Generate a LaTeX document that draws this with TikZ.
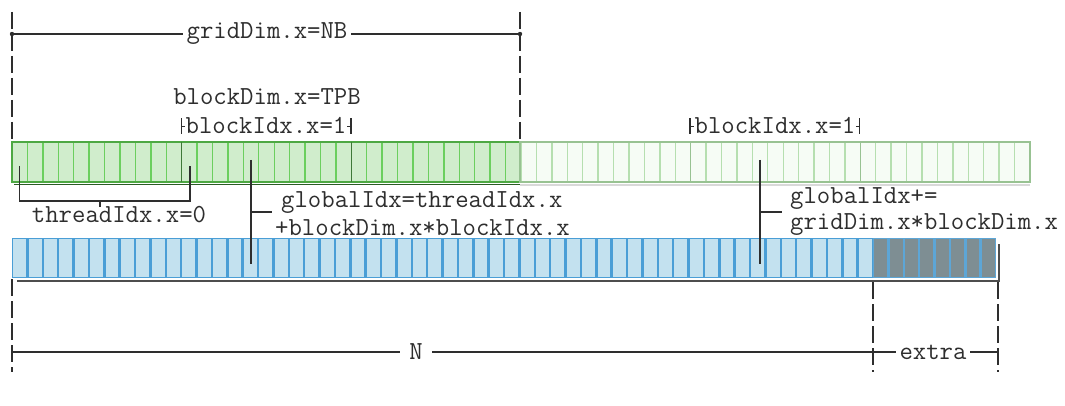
\documentclass[tikz,border=0pt]{standalone}
\definecolor{ink}{HTML}{2E2E2E}
\definecolor{gfill}{HTML}{D0EDCC}
\definecolor{gline}{HTML}{6BCF5E}
\definecolor{gedge}{HTML}{4DA843}
\definecolor{gdiv}{HTML}{3E7838}
\definecolor{lgfill}{HTML}{F6FCF5}
\definecolor{lgline}{HTML}{B6DFB0}
\definecolor{lgdiv}{HTML}{98C292}
\definecolor{bfill}{HTML}{C3E1EF}
\definecolor{bline}{HTML}{4A9ED6}
\definecolor{xfill}{HTML}{7E8E93}
\definecolor{xline}{HTML}{5DA6D6}
\tikzset{
  lbl/.style={font=\ttfamily\fontsize{26}{25}\selectfont, text=ink, inner sep=1pt},
  padlbl/.style={lbl, fill=white, inner xsep=4pt},
  dim/.style={draw=ink, line width=1.1pt},
  guide/.style={draw=ink, line width=1.1pt, dash pattern=on 17pt off 5pt},
  darkcell/.style={draw=gline, fill=gfill, line width=1.4pt},
  lightcell/.style={draw=lgline, fill=lgfill, line width=1.4pt},
  bluecell/.style={draw=bline, fill=bfill, line width=1.3pt},
  extracell/.style={draw=xline, fill=xfill, line width=1.3pt},
}
\begin{document}
\begin{tikzpicture}[x=1pt, y=-1pt]
\useasboundingbox[fill=white] (0,0) rectangle (1065,406);

% ---- grid of blocks (threads) ----
\def\gw{15.424}
\draw[line width=1.6pt, draw=black!45!gedge] (14,184.5) -- (520,184.5);
\draw[line width=1.6pt, draw=black!15] (520,185) -- (1030,185);
\foreach \i in {0,...,32}
  \draw[darkcell] ({12+\i*\gw},142) rectangle ++(\gw,40);
\foreach \i in {33,...,65}
  \draw[lightcell] ({12+\i*\gw},142) rectangle ++(\gw,40);
\draw[gedge, line width=1.6pt] (12,142) rectangle (520,182);
\draw[lgdiv, line width=1.3pt] (520,142) rectangle (1030,182);
\foreach \k in {1,2} \draw[gdiv, line width=1.4pt] ({12+11*\k*\gw},142) -- ++(0,40);
\foreach \k in {4,5} \draw[lgdiv, line width=1.4pt] ({12+11*\k*\gw},142) -- ++(0,40);

% ---- data array ----
\def\bw{15.375}
\draw[line width=1.6pt, draw=ink!85] (17,281) -- (999,281) -- (999,244);
\foreach \i in {0,...,55}
  \draw[bluecell] ({12.6+\i*\bw},238.6) rectangle ++({\bw-1.2},38.8);
\foreach \i in {56,...,63}
  \draw[extracell] ({12.6+\i*\bw},238.6) rectangle ++({\bw-1.2},38.8);

% ---- named points ----
\coordinate (gL) at (12,34);   \coordinate (gR) at (520,34);
\coordinate (b1L) at (181.5,126); \coordinate (b1R) at (351,126);
\coordinate (b4L) at (690,126);   \coordinate (b4R) at (859.5,126);
\coordinate (nL) at (12,352);  \coordinate (nM) at (873,352); \coordinate (nR) at (998,352);

% ---- grid width ----
\draw[guide] (12,12) -- (12,142);
\draw[guide] (520,12) -- (520,142);
\draw[dim] (gL) -- (gR);
\fill[ink] (gL) circle (2.2pt) (gR) circle (2.2pt);
\node[padlbl] (gdim) at (267,34) {gridDim.x=NB};

\node[lbl] (bdim) at (267,97) {blockDim.x=TPB};

% ---- block index markers ----
\draw[dim, line width=0.9pt] (b1L) -- (b1R);
\draw[dim] ([yshift=-8]b1L) -- ([yshift=8]b1L);
\draw[dim] ([yshift=-8]b1R) -- ([yshift=8]b1R);
\node[lbl, fill=white, inner xsep=1pt] (bidx1) at (266,125) {blockIdx.x=1};

\draw[dim, line width=0.9pt] (b4L) -- (b4R);
\draw[dim] ([yshift=-8]b4L) -- ([yshift=8]b4L);
\draw[dim] ([yshift=-8]b4R) -- ([yshift=8]b4R);
\node[lbl, fill=white, inner xsep=1pt] (bidx4) at (775,125) {blockIdx.x=1};

% ---- thread index bracket ----
\coordinate (t0) at (19.5,166);
\coordinate (t1) at (190,166);
\draw[dim] (t0) -- (19.5,201) -- (190,201) -- (t1);
\draw[dim] (100,201) -- (100,207);
\node[lbl] (tidx) at (119,215) {threadIdx.x=0};

% ---- global index, first pass ----
\coordinate (g1top) at (251,160);
\coordinate (g1bot) at (251,264);
\draw[dim] (g1top) -- (g1bot);
\draw[dim] (251,212) -- (272,212);
\node[lbl, anchor=west] (gi1a) at (280,203) {globalIdx=threadIdx.x};
\node[lbl, anchor=west] (gi1b) at (274,228) {+blockDim.x*blockIdx.x};

% ---- global index, grid-stride step ----
\coordinate (g2top) at (760,160);
\coordinate (g2bot) at (760,264);
\draw[dim] (g2top) -- (g2bot);
\draw[dim] (760,212) -- (782,212);
\node[lbl, anchor=west] (gi2a) at (789,199) {globalIdx+=};
\node[lbl, anchor=west] (gi2b) at (789,225) {gridDim.x*blockDim.x};

% ---- array length ----
\draw[guide] (12,279) -- (12,372);
\draw[guide] (873,282) -- (873,372);
\draw[guide] (998,282) -- (998,372);
\draw[dim] (nL) -- (nM) -- (nR);
\node[padlbl, inner xsep=9pt] (nlbl) at (416,352) {N};
\node[padlbl] (elbl) at (933,352) {extra};
\end{tikzpicture}
\end{document}
